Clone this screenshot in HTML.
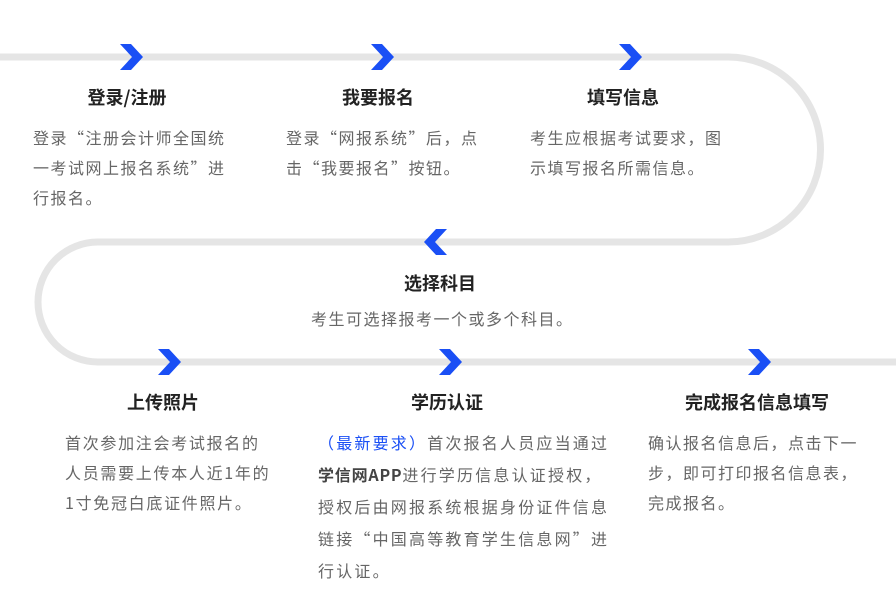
<!DOCTYPE html>
<html><head><meta charset="utf-8"><style>
body{margin:0;width:896px;height:600px;background:#fff;position:relative;overflow:hidden;font-family:"Noto Sans CJK SC","Liberation Sans",sans-serif}
.t{position:absolute;font-size:18px;font-weight:bold;color:#222;white-space:nowrap;transform:translateX(-50%);line-height:24px}
.b{position:absolute;font-size:16px;color:#666;line-height:30px;letter-spacing:1.5px;white-space:nowrap}
.b2{line-height:32px;letter-spacing:2.2px}
.blue{color:#1a4ff5}
.k{color:#444;font-weight:bold;letter-spacing:0.8px}
</style></head><body>
<svg width="896" height="600" style="position:absolute;left:0;top:0">
<path d="M0 57 H728 A92.5 92.5 0 0 1 728 242 H98 A60 60 0 0 0 98 362 H896" fill="none" stroke="#e5e5e5" stroke-width="7"/>
<g fill="#1a4ff5">
<polygon points="120,44 131,44 143,57 131,70 120,70 132,57"/>
<polygon points="371,44 382,44 394,57 382,70 371,70 383,57"/>
<polygon points="619,44 630,44 642,57 630,70 619,70 631,57"/>
<polygon points="447,229 436,229 424,242 436,255 447,255 435,242"/>
<polygon points="158,349 169,349 181,362 169,375 158,375 170,362"/>
<polygon points="439,349 450,349 462,362 450,375 439,375 451,362"/>
<polygon points="748,349 759,349 771,362 759,375 748,375 760,362"/>
</g></svg>
<div class="t" style="left:127px;top:85px">登录/注册</div>
<div class="b" style="left:33px;top:122px">登录“注册会计师全国统<br>一考试网上报名系统”进<br>行报名。</div>
<div class="t" style="left:378px;top:85px">我要报名</div>
<div class="b" style="left:286px;top:122px">登录“网报系统”后，点<br>击“我要报名”按钮。</div>
<div class="t" style="left:623px;top:85px">填写信息</div>
<div class="b" style="left:530px;top:122px">考生应根据考试要求，图<br>示填写报名所需信息。</div>
<div class="t" style="left:440px;top:271px">选择科目</div>
<div class="b" style="left:311px;top:303px">考生可选择报考一个或多个科目。</div>
<div class="t" style="left:163px;top:390px">上传照片</div>
<div class="b" style="left:65px;top:427px;letter-spacing:1.7px">首次参加注会考试报名的<br>人员需要上传本人近1年的<br>1寸免冠白底证件照片。</div>
<div class="t" style="left:447px;top:390px">学历认证</div>
<div class="b b2" style="left:318px;top:426px"><span class="blue">（最新要求）</span>首次报名人员应当通过<br><span class="k">学信网APP</span>进行学历信息认证授权，<br>授权后由网报系统根据身份证件信息<br>链接“中国高等教育学生信息网”进<br>行认证。</div>
<div class="t" style="left:757px;top:390px">完成报名信息填写</div>
<div class="b" style="left:648px;top:427px">确认报名信息后，点击下一<br>步，即可打印报名信息表，<br>完成报名。</div>
</body></html>
